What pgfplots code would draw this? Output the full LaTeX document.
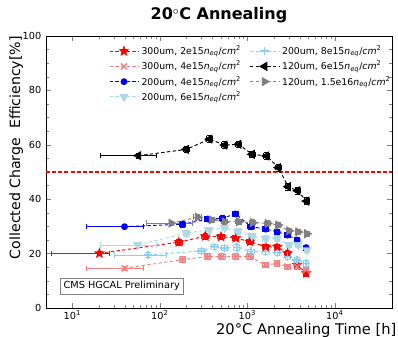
\documentclass[border=0pt]{standalone}
\usepackage{pgfplots}
\usepackage{pgfplotstable}
\pgfplotsset{compat=1.18}
\usepackage{fontspec}
\setmainfont{DejaVu Sans}
\definecolor{salmonc}{RGB}{240,128,128}
\definecolor{lblue}{RGB}{173,216,230}
\definecolor{lsky}{RGB}{135,206,250}
\definecolor{grayc}{RGB}{128,128,128}
\pgfdeclareplotmark{fstar}{%
 \pgfpathmoveto{\pgfpointpolar{90}{\pgfplotmarksize}}%
 \pgfpathlineto{\pgfpointpolar{126}{0.42\pgfplotmarksize}}%
 \pgfpathlineto{\pgfpointpolar{162}{\pgfplotmarksize}}%
 \pgfpathlineto{\pgfpointpolar{198}{0.42\pgfplotmarksize}}%
 \pgfpathlineto{\pgfpointpolar{234}{\pgfplotmarksize}}%
 \pgfpathlineto{\pgfpointpolar{270}{0.42\pgfplotmarksize}}%
 \pgfpathlineto{\pgfpointpolar{306}{\pgfplotmarksize}}%
 \pgfpathlineto{\pgfpointpolar{342}{0.42\pgfplotmarksize}}%
 \pgfpathlineto{\pgfpointpolar{18}{\pgfplotmarksize}}%
 \pgfpathlineto{\pgfpointpolar{54}{0.42\pgfplotmarksize}}%
 \pgfpathclose\pgfusepathqfillstroke}

\pgfplotstableread{
x y xm xp ey
20.4 20.1 14.6 6.2 0.8
165 24.2 15 15 1
330 26.4 30 30 1
500 26.2 45 45 1
740 25.7 60 60 1
1070 24.4 90 90 1
1620 22.5 120 120 1
2200 22.5 150 150 1
2880 20.1 200 200 1
3720 15.8 250 250 1
4700 12.8 300 300 1
}\datared
\pgfplotstableread{
x y xm xp ey
39.5 14.6 25 25 0.8
182 17.8 15 15 1
352 18.9 30 30 1
510 18.9 45 45 1
740 18.9 60 60 1
1070 18.9 90 90 1
1620 15.8 120 120 1
2200 16.4 150 150 1
2880 15.2 200 200 1
3720 15.2 250 250 1
4700 14.0 300 300 1
}\datasalmon
\pgfplotstableread{
x y xm xp ey
39.5 29.9 25 25 0.8
182 30.8 15 15 1
352 32.7 30 30 1
522 33.0 45 45 1
730 34.6 60 60 1
1100 29.9 90 90 1
1620 29.0 120 120 1
2200 28.0 150 150 1
2880 26.8 200 200 1
3720 25.0 250 250 1
4700 22.2 300 300 1
}\datablue
\pgfplotstableread{
x y xm xp ey
56 23.2 35 35 0.8
200 27.5 15 15 1
360 28.7 30 30 1
550 29.5 45 45 1
780 28.1 60 60 1
1130 26.5 90 90 1
1620 25.6 120 120 1
2200 25.6 150 150 1
3000 23.2 200 200 1
3800 23.2 250 250 1
4800 21.3 300 300 1
}\datalblue
\pgfplotstableread{
x y xm xp ey
73 19.5 43 46 0.8
300 21.0 25 25 1
424 22.5 35 35 1
550 22.0 45 45 1
760 22.3 60 60 1
1100 20.7 90 90 1
1620 20.7 120 120 1
2200 20.3 150 150 1
2900 18.9 200 200 1
3700 17.6 250 250 1
4700 16.4 300 300 1
}\datalsky
\pgfplotstableread{
x y xm xp ey
57 56.0 36 34 1
200 58.3 15 15 1
371 62.1 30 30 1.2
551 59.9 45 45 1.2
796 60.2 60 60 1.2
1132 56.5 90 90 1.2
1655 55.9 120 120 1.2
2270 51.6 150 150 1.2
2925 44.6 200 200 1.2
3750 43.1 250 250 1.2
4755 39.3 300 300 1.2
}\datablack
\pgfplotstableread{
x y xm xp ey
135 31.2 64 102 0.8
270 33.4 25 25 1
390 32.4 30 30 1
550 31.7 45 45 1
800 31.7 60 60 1
1150 31.4 90 90 1
1700 31.1 120 120 1
2250 30.5 150 150 1
3000 28.4 200 200 1
3800 28.0 250 250 1
4800 27.3 300 300 1
}\datagray

\begin{document}
\begin{tikzpicture}
\useasboundingbox (-34.5pt,-21pt) rectangle (264pt,231pt);
\begin{axis}[
  scale only axis,
  width=259.5pt, height=204pt,
  xmode=log,
  xmin=5, xmax=45000,
  ymin=0, ymax=100,
  xtick={10,100,1000,10000},
  xticklabels={10\textsuperscript{1},10\textsuperscript{2},10\textsuperscript{3},10\textsuperscript{4}},
  ytick={0,20,40,60,80,100},
  minor y tick num=3,
  tick align=inside,
  major tick length=4pt,
  minor tick length=2.2pt,
  /pgf/number format/assume math mode=true,
  tick label style={font=\fontsize{7.3}{8}\selectfont},
  xticklabel style={yshift=1.5pt},
  title={\textbf{20$^{\circ}$C Annealing}},
  title style={at={(axis description cs:0.5,1)}, anchor=base, yshift=6pt, font=\fontsize{12}{14}\selectfont},
  xlabel={20°C Annealing Time [h]},
  xlabel style={at={(axis description cs:1,0)}, anchor=base east, yshift=-19.5pt, xshift=3.5pt, inner sep=0pt, font=\fontsize{11}{13}\selectfont},
  ylabel={Collected Charge\ \ Efficiency[\%]},
  ylabel style={at={(axis description cs:-0.075,1)}, anchor=base east, inner sep=0pt, font=\fontsize{10.6}{12}\selectfont},
  legend style={at={(axis description cs:0.17,0.985)}, anchor=north west, draw=none, fill=none,
    font=\fontsize{7}{8.5}\selectfont, row sep=-0.8pt,
    /tikz/every even column/.append style={column sep=4.5pt}},
  legend image code/.code={\draw[mark repeat=2,mark phase=2] plot coordinates {(0cm,0cm) (0.38cm,0cm) (0.76cm,0cm)};},
  legend cell align=left,
  legend columns=2,
  error bars/error bar style={solid, line width=0.6pt},
  error bars/error mark options={rotate=90, mark size=2pt, solid, line width=0.6pt},
]
\addplot[red, dashed, line width=1.2pt, dash pattern=on 3pt off 1.6pt, forget plot] coordinates {(5,50) (45000,50)};

\pgfplotsset{every axis plot/.append style={line width=0.7pt, dash pattern=on 2.5pt off 1.8pt}}

\addplot[red, mark=fstar, mark size=3.4pt, mark options={solid, fill=red},
  error bars/.cd, x dir=both, x explicit, y dir=both, y explicit]
  table[x=x, y=y, x error plus=xp, x error minus=xm, y error=ey] {\datared};
\addlegendentry{300um, 2e15\textit{n}\textsubscript{\textit{eq}}/\textit{cm}\textsuperscript{2}}

\addplot[lsky, mark=+, mark size=3.2pt, mark options={solid, line width=1pt},
  error bars/.cd, x dir=both, x explicit, y dir=both, y explicit]
  table[x=x, y=y, x error plus=xp, x error minus=xm, y error=ey] {\datalsky};
\addlegendentry{200um, 8e15\textit{n}\textsubscript{\textit{eq}}/\textit{cm}\textsuperscript{2}}

\addplot[salmonc, mark=x, mark size=3.2pt, mark options={solid, line width=1pt},
  error bars/.cd, x dir=both, x explicit, y dir=both, y explicit]
  table[x=x, y=y, x error plus=xp, x error minus=xm, y error=ey] {\datasalmon};
\addlegendentry{300um, 4e15\textit{n}\textsubscript{\textit{eq}}/\textit{cm}\textsuperscript{2}}

\addplot[black, mark=triangle*, mark size=3.4pt, mark options={solid, rotate=90, fill=black},
  error bars/.cd, x dir=both, x explicit, y dir=both, y explicit]
  table[x=x, y=y, x error plus=xp, x error minus=xm, y error=ey] {\datablack};
\addlegendentry{120um, 6e15\textit{n}\textsubscript{\textit{eq}}/\textit{cm}\textsuperscript{2}}

\addplot[blue, mark=*, mark size=2.2pt, mark options={solid, fill=blue},
  error bars/.cd, x dir=both, x explicit, y dir=both, y explicit]
  table[x=x, y=y, x error plus=xp, x error minus=xm, y error=ey] {\datablue};
\addlegendentry{200um, 4e15\textit{n}\textsubscript{\textit{eq}}/\textit{cm}\textsuperscript{2}}

\addplot[grayc, mark=triangle*, mark size=3.4pt, mark options={solid, rotate=-90, fill=grayc},
  error bars/.cd, x dir=both, x explicit, y dir=both, y explicit]
  table[x=x, y=y, x error plus=xp, x error minus=xm, y error=ey] {\datagray};
\addlegendentry{120um, 1.5e16\textit{n}\textsubscript{\textit{eq}}/\textit{cm}\textsuperscript{2}}

\addplot[lblue, mark=triangle*, mark size=3.4pt, mark options={solid, rotate=180, fill=lblue},
  error bars/.cd, x dir=both, x explicit, y dir=both, y explicit]
  table[x=x, y=y, x error plus=xp, x error minus=xm, y error=ey] {\datalblue};
\addlegendentry{200um, 6e15\textit{n}\textsubscript{\textit{eq}}/\textit{cm}\textsuperscript{2}}

\node[draw=grayc, fill=white, line width=0.6pt, inner sep=2.5pt, anchor=south west,
  font=\fontsize{7.3}{8}\selectfont] at (axis description cs:0.04,0.05) {CMS HGCAL Preliminary};
\end{axis}
\end{tikzpicture}
\end{document}
